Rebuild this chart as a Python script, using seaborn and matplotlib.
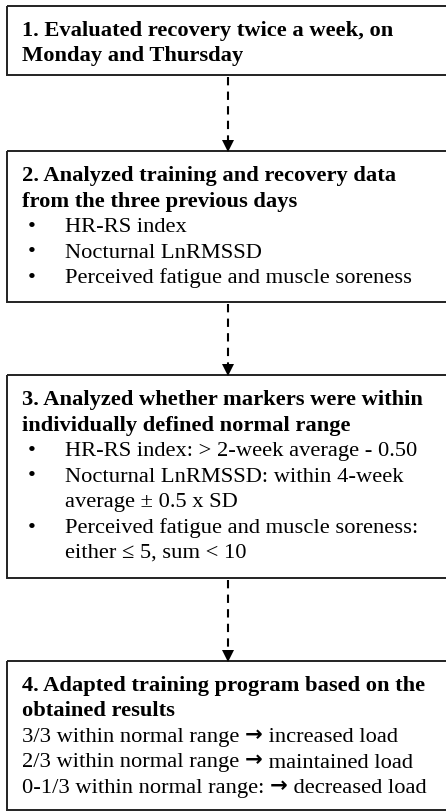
import matplotlib
matplotlib.use("Agg")
import matplotlib.pyplot as plt
import seaborn as sns
from matplotlib.patches import Rectangle

# box texts
step1_head = ["1. Evaluated recovery twice a week, on", "Monday and Thursday"]
step2_head = ["2. Analyzed training and recovery data", "from the three previous days"]
step2_bullets = ["HR-RS index", "Nocturnal LnRMSSD", "Perceived fatigue and muscle soreness"]
step3_head = ["3. Analyzed whether markers were within", "individually defined normal range"]
step3_bullets = [
    "HR-RS index: > 2-week average - 0.50",
    "Nocturnal LnRMSSD: within 4-week\naverage \u00b1 0.5 x SD",
    "Perceived fatigue and muscle soreness:\neither \u2264 5, sum < 10",
]
step4_head = ["4. Adapted training program based on the", "obtained results"]
step4_lines = [
    "3/3 within normal range \u2192 increased load",
    "2/3 within normal range \u2192 maintained load",
    "0-1/3 within normal range: \u2192 decreased load",
]

sns.set_theme(style="white")
FONT = ["Liberation Serif", "DejaVu Serif"]
plt.rcParams["font.family"] = FONT

W, H = 446, 811
fig = plt.figure(figsize=(W / 100, H / 100), dpi=100)
ax = fig.add_axes([0, 0, 1, 1])
ax.set_xlim(0, W)
ax.set_ylim(H, 0)
ax.axis("off")
renderer = fig.canvas.get_renderer()

FS = 16.2
STEP = 25.5
X_LEFT = 7
X_TEXT = 22
X_BULLET = 28
X_BTEXT = 65
X_ARROW = 228


def put_line(x, y, line, **kw):
    # the arrow sign is drawn in a heavier sans face, like the original
    parts = line.split("\u2192")
    for i, part in enumerate(parts):
        t = ax.text(x, y, part, fontsize=FS, va="baseline", color="black", **kw)
        x += t.get_window_extent(renderer).width
        if i < len(parts) - 1:
            a = ax.text(x, y - 1, "\u2192", fontsize=FS - 1, va="baseline", color="black",
                        family="DejaVu Sans", fontweight="bold")
            x += a.get_window_extent(renderer).width


def draw_box(top, bottom, head, bullets=(), plain=()):
    ax.add_patch(Rectangle((X_LEFT, top), W + 20 - X_LEFT, bottom - top,
                           fill=False, edgecolor="#222222", linewidth=1.4))
    y = top + 30
    for line in head:
        put_line(X_TEXT, y, line, fontweight="bold")
        y += STEP
    for item in bullets:
        ax.text(X_BULLET, y, "\u2022", fontsize=FS, va="baseline", color="black")
        for part in item.split("\n"):
            put_line(X_BTEXT, y, part)
            y += STEP
    for line in plain:
        put_line(X_TEXT, y, line)
        y += STEP


def draw_arrow(y0, y1):
    ax.plot([X_ARROW, X_ARROW], [y0 + 2, y1 - 9], color="black", linewidth=1.5,
            linestyle=(0, (4, 3)))
    ax.plot([X_ARROW], [y1 - 5], marker="v", markersize=8, color="black",
            markeredgewidth=0)


boxes = [(6, 75), (151, 302), (375, 578), (661, 810)]
draw_box(*boxes[0], step1_head)
draw_box(*boxes[1], step2_head, bullets=step2_bullets)
draw_box(*boxes[2], step3_head, bullets=step3_bullets)
draw_box(*boxes[3], step4_head, plain=step4_lines)

for (t0, b0), (t1, b1) in zip(boxes[:-1], boxes[1:]):
    draw_arrow(b0, t1)

fig.savefig("out.png", dpi=100, facecolor="white")
